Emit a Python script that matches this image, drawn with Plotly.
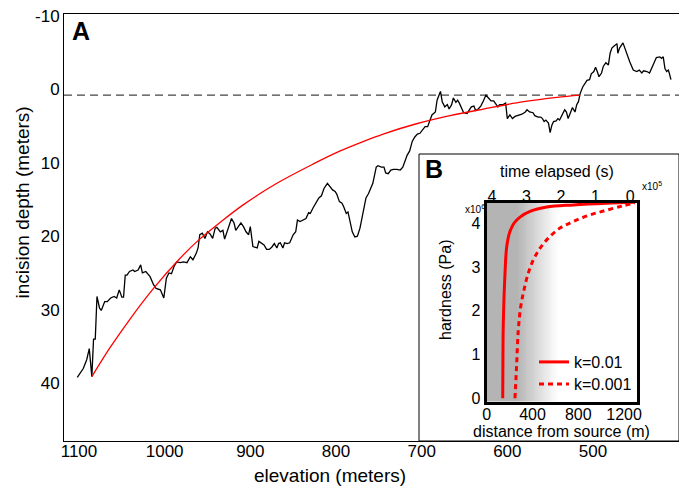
import numpy as np
import plotly.graph_objects as go

# ---------------- Panel A data ----------------
elevation_m = [
    1102, 1099, 1095, 1091, 1088, 1085, 1083, 1081, 1079, 1076,
    1074, 1070, 1067, 1063, 1059, 1056, 1053, 1050, 1048, 1046,
    1044, 1041, 1037, 1035, 1031, 1028, 1026, 1022, 1017, 1013,
    1010, 1005, 1001, 998, 995, 992, 989, 986, 982, 978,
    974, 970, 967, 963, 961, 959, 956, 953, 950, 947,
    944, 941, 939, 935, 932, 930, 927, 925, 922, 919,
    917, 914, 911, 908, 905, 902, 900, 897, 895, 892,
    890, 887, 884, 881, 878, 875, 872, 869, 867, 865,
    862, 860, 857, 854, 850, 847, 845, 842, 839, 835,
    832, 830, 827, 823, 820, 817, 814, 810, 807, 804,
    801, 799, 796, 793, 791, 788, 786, 784, 781, 778,
    775, 772, 768, 765, 762, 760, 757, 753, 751, 747,
    744, 742, 739, 736, 733, 729, 725, 722, 720, 717,
    714, 711, 708, 705, 702, 699, 696, 693, 691, 688,
    684, 682, 679, 678, 676, 673, 670, 668, 665, 663,
    660, 658, 656, 653, 651, 647, 644, 642, 639, 637,
    634, 631, 628, 625, 622, 619, 616, 613, 611, 609,
    605, 602, 600, 597, 594, 591, 587, 583, 579, 577,
    574, 570, 568, 564, 561, 559, 557, 555, 552, 550,
    548, 546, 543, 541, 539, 535, 533, 531, 529, 526,
    524, 521, 519, 517, 515, 512, 509, 507, 504, 502,
    499, 497, 495, 493, 490, 488, 485, 482, 480, 478,
    476, 474, 472, 471, 469, 465, 463, 460, 457, 453,
    449, 446, 443, 441, 437, 434, 430, 426, 422, 420,
    418, 416, 414, 412, 411, 409,
]
incision_depth_m = [
    39.2, 38.7, 38.0, 36.8, 35.3, 39.1, 34.0, 34.0, 28.2, 29.8,
    30.1, 28.9, 28.9, 28.4, 28.2, 28.4, 27.3, 28.3, 28.3, 25.3,
    25.3, 24.8, 24.6, 24.8, 24.6, 23.9, 25.0, 24.8, 25.5, 26.6,
    27.1, 27.3, 28.4, 25.7, 25.0, 25.1, 24.1, 23.5, 23.6, 23.5,
    23.6, 22.8, 23.2, 22.3, 21.6, 19.8, 19.6, 20.3, 19.4, 19.7,
    20.3, 18.9, 18.8, 19.4, 19.2, 20.4, 19.4, 18.9, 17.6, 18.2,
    19.2, 18.7, 18.2, 18.7, 19.4, 19.8, 18.7, 21.4, 21.5, 21.6,
    20.7, 21.0, 21.2, 21.8, 21.8, 21.5, 21.0, 21.6, 21.0, 20.9,
    21.6, 20.9, 21.0, 20.9, 19.8, 19.4, 17.8, 18.0, 17.8, 17.6,
    16.8, 16.9, 16.2, 15.3, 14.8, 14.5, 13.5, 12.8, 13.2, 13.7,
    13.9, 14.3, 15.3, 15.5, 16.0, 16.9, 16.7, 17.8, 19.4, 20.1,
    20.0, 18.9, 16.7, 14.8, 14.2, 13.7, 12.8, 10.6, 10.4, 10.6,
    10.6, 11.4, 11.5, 11.0, 10.9, 10.9, 11.0, 10.6, 9.9, 9.0,
    8.4, 7.1, 6.5, 6.1, 6.0, 5.5, 5.1, 5.1, 4.4, 3.5,
    3.1, 1.5, 0.6, 0.3, 1.7, 2.4, 2.1, 2.7, 2.1, 1.2,
    1.8, 1.5, 1.9, 2.8, 3.2, 3.3, 2.8, 2.4, 2.3, 2.9,
    2.7, 2.3, 1.6, 0.8, 1.2, 1.6, 1.6, 2.0, 2.4, 2.1,
    2.1, 1.9, 4.0, 3.5, 4.0, 3.7, 3.6, 3.4, 3.1, 2.8,
    3.1, 3.2, 3.6, 3.8, 3.8, 4.0, 4.4, 4.2, 4.6, 5.9,
    4.9, 4.4, 4.3, 4.0, 4.2, 3.3, 2.8, 3.1, 4.0, 3.1,
    2.5, 3.1, 2.1, 1.7, 0.6, -0.3, -0.9, -1.2, -1.3, -2.1,
    -2.4, -3.0, -2.4, -1.7, -2.2, -3.1, -3.6, -3.3, -4.9, -5.6,
    -5.8, -6.0, -6.2, -4.9, -5.6, -6.3, -5.6, -4.7, -3.7, -2.6,
    -2.4, -2.6, -2.2, -2.5, -2.4, -2.2, -3.3, -4.3, -4.4, -4.2,
    -4.4, -2.8, -2.4, -2.6, -2.2, -1.3,
]
model_elevation_m = [1085, 1064, 1040, 1013, 982, 962, 935, 908, 869, 827,
                     795, 770, 745, 706, 667, 628, 581, 542, 515]
model_depth_m = [39.1, 35.2, 31.2, 27.1, 23.0, 20.7, 18.1, 15.7, 12.8, 10.2,
                 8.4, 7.2, 6.1, 4.7, 3.6, 2.7, 1.7, 1.1, 0.8]
reference_level_m = 0.8

elev_ticks = [1100, 1000, 900, 800, 700, 600, 500]
depth_ticks = [-10, 0, 10, 20, 30, 40]
depth_ticktext = ["-10", "0", "10", "20", "30", "40"]

# ---------------- Panel B data ----------------
dist_k001 = [140, 142, 145, 160, 175, 203, 238, 291, 378, 524, 756, 1048, 1296]
hard_k001 = [0.0, 1.0, 1.71, 2.86, 3.47, 3.81, 4.0, 4.14, 4.27, 4.37, 4.42, 4.46, 4.48]
dist_k0001 = [247, 262, 276, 297, 326, 363, 407, 466, 538, 640, 756, 902, 1048, 1193, 1295]
hard_k0001 = [0.0, 0.8, 1.56, 2.09, 2.48, 2.86, 3.16, 3.43, 3.66, 3.89, 4.04, 4.19, 4.30, 4.40, 4.46]
dist_ticks = [0, 400, 800, 1200]
time_ticks = [4, 3, 2, 1, 0]
hard_ticks = [0, 1, 2, 3, 4]
shade_start_m, shade_end_m = 256, 614

FONT = "Liberation Sans, Arial, sans-serif"
# the page has an 8px body margin: the figure is drawn offset by 8px
OFF = 8
W, H = 687 - OFF, 488 - OFF
PL, PR, PT, PB = 64, 679, 14, 441          # plot area in page pixels
ml, mr, mt, mb = PL - OFF, W - (PR - OFF), PT - OFF, H - (PB - OFF)
pw, ph = PR - PL, PB - PT


def px_x(px):
    return (px - PL) / pw


def px_y(py):
    return (PB - py) / ph


fig = go.Figure()

fig.add_trace(go.Scatter(x=elevation_m, y=incision_depth_m, mode="lines",
                         line=dict(color="black", width=1.3), showlegend=False,
                         hoverinfo="skip", xaxis="x", yaxis="y"))
fig.add_trace(go.Scatter(x=model_elevation_m, y=model_depth_m, mode="lines",
                         line=dict(color="#ff0000", width=1.3, shape="spline"),
                         showlegend=False, hoverinfo="skip", xaxis="x", yaxis="y"))

grad_x = np.linspace(0, 1320, 133)
grad_z = np.clip((grad_x - shade_start_m) / (shade_end_m - shade_start_m), 0, 1)
fig.add_trace(go.Heatmap(x=grad_x, y=[-0.3, 4.8], z=[grad_z, grad_z],
                         colorscale=[[0, "rgb(180,180,180)"], [1, "rgb(255,255,255)"]],
                         zmin=0, zmax=1, showscale=False, zsmooth="best",
                         hoverinfo="skip", xaxis="x2", yaxis="y2"))

fig.add_trace(go.Scatter(x=dist_k001, y=hard_k001, mode="lines", name="k=0.01",
                         line=dict(color="#ff0000", width=3, shape="spline"),
                         hoverinfo="skip", xaxis="x2", yaxis="y2", legend="legend"))
fig.add_trace(go.Scatter(x=dist_k0001, y=hard_k0001, mode="lines", name="k=0.001",
                         line=dict(color="#ff0000", width=3, shape="spline", dash="5px,4px"),
                         hoverinfo="skip", xaxis="x2", yaxis="y2", legend="legend2"))
# invisible trace so the top (time) axis is rendered
fig.add_trace(go.Scatter(x=time_ticks, y=[None] * len(time_ticks), mode="lines",
                         showlegend=False, hoverinfo="skip", xaxis="x3", yaxis="y2"))

ax_common = dict(showgrid=False, zeroline=False, ticks="", showline=True,
                 linecolor="black", automargin=False)
leg_common = dict(xanchor="left", yanchor="top", bgcolor="rgba(0,0,0,0)",
                  font=dict(size=16), itemwidth=30, tracegroupgap=0)

fig.update_layout(
    width=W, height=H,
    margin=dict(l=ml, r=mr, t=mt, b=mb, autoexpand=False),
    paper_bgcolor="white", plot_bgcolor="white",
    font=dict(family=FONT, color="black"),
    xaxis=dict(domain=[0, 1], range=[1117.5, 399.6], tickvals=elev_ticks,
               mirror=True, linewidth=1, tickfont=dict(size=17), anchor="y",
               ticklabelstandoff=-5, **ax_common),
    yaxis=dict(domain=[0, 1], range=[47.86, -10.23], tickvals=depth_ticks,
               ticktext=depth_ticktext, mirror=True, linewidth=1,
               tickfont=dict(size=17), anchor="x", ticklabeloverflow="allow",
               **ax_common),
    xaxis2=dict(domain=[px_x(486.7), px_x(636.7)], range=[0, 1310],
                tickvals=dist_ticks, anchor="y2", mirror=True, linewidth=3,
                tickfont=dict(size=16), ticklabelstandoff=-4, **ax_common),
    xaxis3=dict(overlaying="x2", side="top", anchor="y2", range=[4.15, -0.19],
                tickvals=time_ticks, showgrid=False, zeroline=False, ticks="",
                showline=False, tickfont=dict(size=16), ticklabelstandoff=-3,
                automargin=False),
    yaxis2=dict(domain=[px_y(401.7), px_y(202.7)], range=[-0.08, 4.47],
                tickvals=hard_ticks, anchor="x2", mirror=True, linewidth=3,
                tickfont=dict(size=16), **ax_common),
    legend=dict(x=px_x(534), y=px_y(345), **leg_common),
    legend2=dict(x=px_x(534), y=px_y(367), **leg_common),
    showlegend=True,
)

fig.add_shape(type="line", xref="paper", yref="y", x0=0, x1=1,
              y0=reference_level_m, y1=reference_level_m,
              line=dict(color="#444444", width=1.3, dash="8px,5px"), layer="below")
fig.add_shape(type="rect", xref="paper", yref="paper", x0=px_x(419), x1=1,
              y0=0, y1=px_y(154), line=dict(color="black", width=1),
              fillcolor="white", layer="below")

ann = [
    dict(text="<b>A</b>", x=px_x(81), y=px_y(31), size=25),
    dict(text="<b>B</b>", x=px_x(433.5), y=px_y(169), size=25),
    dict(text="incision depth (meters)", x=px_x(22), y=px_y(202.5), size=19, angle=-90),
    dict(text="elevation (meters)", x=px_x(330), y=px_y(475), size=19),
    dict(text="time elapsed (s)", x=px_x(556.7), y=px_y(171.7), size=16),
    dict(text="hardness (Pa)", x=px_x(445), y=px_y(290), size=16, angle=-90),
    dict(text="distance from source (m)", x=px_x(561.7), y=px_y(431.7), size=16),
]
for a in ann:
    fig.add_annotation(text=a["text"], x=a["x"], y=a["y"], xref="paper", yref="paper",
                       showarrow=False, xanchor="center", yanchor="middle",
                       textangle=a.get("angle", 0), font=dict(size=a["size"]))
fig.add_annotation(text="x10<sup>6</sup>", x=px_x(487), y=px_y(209), xref="paper",
                   yref="paper", showarrow=False, xanchor="right", yanchor="middle",
                   font=dict(size=10))
fig.add_annotation(text="x10<sup>5</sup>", x=px_x(640), y=px_y(186), xref="paper",
                   yref="paper", showarrow=False, xanchor="left", yanchor="middle",
                   font=dict(size=10))

fig.write_html("out.html")
